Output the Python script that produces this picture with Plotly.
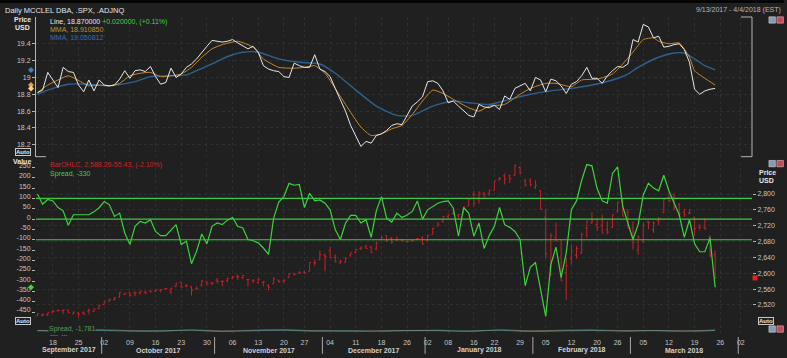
import pandas as pd
import plotly.graph_objects as go

# ---------------- data ----------------
holidays = ["2017-11-23", "2017-12-25", "2018-01-01", "2018-01-15", "2018-02-19", "2018-03-30"]
trading_days = pd.bdate_range("2017-09-13", "2018-04-04", freq="C", holidays=holidays)

dba_line = [
    18.82, 18.85, 19.06, 18.97, 18.88, 19.12, 19.07, 19.06, 18.91, 18.83,
    18.97, 18.84, 18.97, 18.91, 18.90, 18.91, 18.98, 19.08, 18.99, 19.08,
    19.09, 19.07, 19.13, 19.01, 18.92, 18.94, 19.11, 19.00, 19.04, 19.12,
    19.16, 19.22, 19.30, 19.37, 19.44, 19.43, 19.42, 19.43, 19.45, 19.41,
    19.37, 19.34, 19.37, 19.30, 19.14, 19.10, 19.08, 19.07, 19.01, 19.00,
    19.17, 19.14, 19.12, 19.12, 19.27, 19.10, 19.07, 19.01, 18.87, 18.74,
    18.60, 18.43, 18.30, 18.18, 18.24, 18.22, 18.31, 18.33, 18.37, 18.43,
    18.45, 18.44, 18.55, 18.66, 18.71, 18.77, 18.95, 18.96, 18.93, 18.84,
    18.70, 18.72, 18.66, 18.60, 18.55, 18.53, 18.68, 18.65, 18.64, 18.67,
    18.62, 18.78, 18.74, 18.87, 18.90, 18.93, 18.84, 19.00, 18.97, 18.83,
    18.98, 18.96, 18.90, 18.81, 18.92, 18.95, 19.02, 19.12, 18.99, 18.99,
    18.93, 19.02, 19.08, 19.13, 19.12, 19.16, 19.45, 19.42, 19.63, 19.60,
    19.47, 19.49, 19.36, 19.37, 19.39, 19.40, 19.33, 19.18, 18.86, 18.80,
    18.84, 18.86, 18.87,
]

mma_fast_day = [0, 2, 4, 6, 9, 10, 12, 14, 16, 18, 20, 22, 24, 26, 28, 30, 32, 34, 36, 39,
                42, 44, 47, 50, 52, 54, 56, 58, 60, 63, 65, 67, 69, 71, 73, 75, 77, 79, 81, 84,
                86, 88, 91, 94, 96, 99, 101, 104, 106, 109, 112, 114, 116, 118, 120, 121, 123, 125,
                127, 128, 130, 132]
mma_fast = [18.82, 18.91, 18.97, 19.02, 18.93, 18.90, 18.91, 18.90, 18.93, 19.02, 19.05, 19.06,
            19.01, 19.02, 19.04, 19.12, 19.24, 19.34, 19.39, 19.43, 19.36, 19.22, 19.12, 19.11,
            19.12, 19.14, 19.05, 18.87, 18.68, 18.41, 18.31, 18.33, 18.39, 18.43, 18.56, 18.72,
            18.85, 18.81, 18.74, 18.64, 18.60, 18.66, 18.68, 18.80, 18.87, 18.93, 18.93, 18.89,
            18.97, 18.98, 19.04, 19.16, 19.30, 19.45, 19.47, 19.43, 19.40, 19.41, 19.24, 19.08,
            18.99, 18.91]

mma_slow_day = [0, 2, 6, 10, 14, 19, 22, 26, 29, 31, 34, 36, 38, 40, 43, 47, 51, 55, 58, 62,
                66, 70, 73, 77, 81, 84, 88, 92, 96, 100, 104, 108, 112, 115, 117, 121, 124, 126,
                128, 130, 132]
mma_slow = [18.80, 18.85, 18.92, 18.92, 18.90, 18.95, 19.01, 19.02, 19.03, 19.08, 19.16, 19.22,
            19.27, 19.30, 19.30, 19.22, 19.18, 19.16, 19.05, 18.85, 18.66, 18.55, 18.55, 18.66,
            18.72, 18.70, 18.68, 18.74, 18.80, 18.84, 18.87, 18.91, 18.97, 19.04, 19.12, 19.24,
            19.29, 19.29, 19.22, 19.14, 19.09]

spread = [
    120, 72, 95, 88, 56, 40, -30, 21, 21, 21,
    21, 35, 55, 85, 69, 13, 29, -67, -123, -35,
    -11, -19, -3, -60, -80, -80, -55, -27, -123, -107,
    -216, -155, -72, -120, -35, -19, -27, -5, 8, -35,
    -43, -99, -105, -115, -140, -171, 5, 82, 109, 173,
    164, 168, 56, 125, 88, 93, 77, 45, -51, -99,
    -20, 18, 18, -19, -3, -88, 40, 109, 5, -14,
    29, 8, 20, 37, 88, 0, 45, 60, 77, 85,
    88, 53, -83, 56, 29, -83, -19, -142, -80, -35,
    56, -27, -40, -60, -99, -323, -232, -211, -340, -471,
    -219, -136, -283, -163, 45, 88, 188, 264, 258, 149,
    88, 77, 221, 253, 61, -20, -99, -27, 117, 173,
    150, 137, 212, 136, 80, 21, -88, -3, -120, -158,
    -158, -91, -330,
]
spread_levels = [100, 0, -100]

spx_open = [
    2493, 2494, 2495, 2502, 2506, 2506, 2507, 2498, 2500, 2501, 2504, 2504, 2511,
    2521, 2530, 2533, 2540, 2547, 2551, 2549, 2551, 2553, 2556, 2555, 2557, 2562, 2553, 2567,
    2578, 2568, 2566, 2561, 2570, 2578, 2576,
    2583, 2579, 2582, 2588, 2592, 2589, 2584, 2580, 2576, 2577, 2569, 2573, 2583, 2580, 2589,
    2600, 2600, 2603, 2605, 2627, 2634,
    2645, 2657, 2640, 2626, 2628, 2646, 2653, 2662, 2668, 2666, 2661, 2685, 2695, 2688, 2683,
    2684, 2680, 2682, 2687, 2690,
    2683, 2698, 2719, 2731, 2743, 2751, 2745, 2752, 2770, 2799, 2785, 2802, 2802, 2809, 2836,
    2846, 2846, 2848, 2867, 2833, 2833,
    2817, 2808, 2741, 2615, 2691, 2685, 2602, 2637, 2646, 2651, 2714, 2727, 2723, 2721, 2710,
    2716, 2757, 2781, 2754,
    2715, 2659, 2681, 2730, 2710, 2733, 2753, 2791, 2792, 2774, 2754, 2751, 2741, 2715, 2715,
    2691, 2647,
]
spx_high = [
    2498, 2499, 2500, 2508, 2508, 2508, 2508, 2503, 2502, 2504, 2511, 2510, 2520,
    2529, 2535, 2540, 2552, 2550, 2552, 2555, 2555, 2556, 2557, 2558, 2560, 2563, 2563, 2575,
    2578, 2572, 2567, 2567, 2582, 2580, 2578,
    2588, 2582, 2588, 2593, 2597, 2595, 2586, 2585, 2588, 2580, 2572, 2590, 2583, 2585, 2600,
    2600, 2605, 2606, 2627, 2635, 2657,
    2650, 2666, 2648, 2635, 2641, 2652, 2660, 2668, 2672, 2669, 2680, 2694, 2695, 2692, 2693,
    2686, 2682, 2685, 2688, 2693,
    2696, 2715, 2729, 2744, 2749, 2759, 2750, 2768, 2787, 2808, 2807, 2806, 2810, 2833, 2843,
    2852, 2849, 2873, 2870, 2838, 2840,
    2835, 2809, 2763, 2701, 2728, 2685, 2639, 2673, 2669, 2702, 2732, 2754, 2738, 2748, 2731,
    2748, 2780, 2789, 2762,
    2731, 2696, 2728, 2732, 2731, 2741, 2787, 2797, 2802, 2777, 2763, 2762, 2741, 2724, 2739,
    2696, 2658,
]
spx_low = [
    2492, 2492, 2493, 2500, 2503, 2497, 2499, 2496, 2488, 2495, 2496, 2502, 2510,
    2521, 2529, 2532, 2539, 2545, 2541, 2542, 2546, 2547, 2552, 2553, 2552, 2557, 2547, 2566,
    2564, 2565, 2544, 2559, 2567, 2569, 2570,
    2574, 2567, 2577, 2585, 2584, 2585, 2566, 2576, 2575, 2567, 2557, 2573, 2576, 2576, 2589,
    2594, 2599, 2598, 2605, 2619, 2633,
    2605, 2639, 2627, 2625, 2627, 2642, 2651, 2659, 2662, 2652, 2658, 2685, 2680, 2674, 2683,
    2680, 2678, 2679, 2683, 2673,
    2683, 2698, 2719, 2728, 2738, 2748, 2737, 2752, 2769, 2768, 2776, 2790, 2795, 2809, 2834,
    2824, 2828, 2846, 2850, 2819, 2819,
    2813, 2760, 2638, 2593, 2681, 2581, 2533, 2622, 2637, 2649, 2690, 2725, 2707, 2701, 2698,
    2714, 2754, 2744, 2714,
    2660, 2647, 2676, 2711, 2702, 2721, 2752, 2779, 2759, 2744, 2742, 2750, 2695, 2710, 2710,
    2642, 2586,
]
spx_close = [
    2498.37, 2495.62, 2500.23, 2503.87, 2506.65, 2508.24, 2500.60, 2502.22, 2496.66, 2496.84,
    2507.04, 2510.06, 2519.36,
    2529.12, 2534.58, 2537.74, 2552.07, 2549.33, 2544.73, 2550.64, 2555.24, 2550.93, 2553.17,
    2557.64, 2559.36, 2561.26, 2562.10, 2575.21, 2564.98, 2569.13, 2557.15, 2560.40, 2581.07,
    2572.83, 2575.26,
    2579.36, 2579.85, 2587.84, 2591.13, 2590.64, 2594.38, 2584.62, 2582.30, 2584.84, 2578.87,
    2564.62, 2585.64, 2578.85, 2582.14, 2599.03, 2597.08, 2602.42, 2601.42, 2627.04, 2626.07,
    2647.58,
    2642.22, 2639.44, 2629.57, 2629.27, 2636.98, 2651.50, 2659.99, 2664.11, 2662.85, 2652.01,
    2675.81, 2690.16, 2681.47, 2679.25, 2684.57, 2683.34, 2680.50, 2682.62, 2687.54, 2673.61,
    2695.81, 2713.06, 2723.99, 2743.15, 2747.71, 2751.29, 2748.23, 2767.56, 2786.24, 2776.42,
    2802.56, 2798.03, 2810.30, 2832.97, 2839.13, 2837.54, 2839.25, 2872.87, 2853.53, 2822.43,
    2823.81,
    2821.98, 2762.13, 2648.94, 2695.14, 2681.66, 2581.00, 2619.55, 2656.00, 2662.94, 2698.63,
    2731.20, 2732.22, 2716.26, 2701.33, 2703.96, 2747.30, 2779.60, 2744.28, 2713.83,
    2677.67, 2691.25, 2720.94, 2728.12, 2726.80, 2738.97, 2786.57, 2783.02, 2765.31, 2749.48,
    2747.33, 2752.01, 2712.92, 2716.94, 2711.93, 2643.69, 2588.26,
]

spread2_day = [0, 6, 12, 18, 24, 30, 36, 42, 48, 54, 60, 66, 72, 78, 84, 90, 96, 102, 108, 114,
               120, 126, 132]
spread2_a = [-1790, -1805, -1785, -1800, -1795, -1780, -1810, -1790, -1775, -1800, -1795, -1805,
             -1790, -1785, -1800, -1780, -1810, -1795, -1785, -1800, -1790, -1805, -1781]
spread2_b = [-1785, -1795, -1770, -1790, -1800, -1770, -1800, -1780, -1770, -1790, -1800, -1795,
             -1785, -1790, -1805, -1770, -1795, -1780, -1775, -1790, -1785, -1795, -1775]

top_ticks = [18.2, 18.4, 18.6, 18.8, 19.0, 19.2, 19.4]
spread_ticks = [250, 200, 150, 100, 50, 0, -50, -100, -150, -200, -250, -300, -350, -400, -450]
price_ticks = [2520, 2560, 2600, 2640, 2680, 2720, 2760, 2800]

x_tick_dates = ["2017-09-18", "2017-09-25", "2017-10-02", "2017-10-09", "2017-10-16", "2017-10-23",
                "2017-10-30", "2017-11-06", "2017-11-13", "2017-11-20", "2017-11-27", "2017-12-04",
                "2017-12-11", "2017-12-18", "2017-12-26", "2018-01-02", "2018-01-08", "2018-01-16",
                "2018-01-22", "2018-01-29", "2018-02-05", "2018-02-12", "2018-02-20", "2018-02-26",
                "2018-03-05", "2018-03-12", "2018-03-19", "2018-03-26", "2018-04-02"]
x_tick_labels = ["18", "25", "02", "09", "16", "23", "30", "06", "13", "20", "27", "04", "11", "18",
                 "26", "02", "08", "16", "22", "29", "05", "12", "20", "26", "05", "12", "19", "26",
                 "02"]
month_labels = ["September 2017", "October 2017", "November 2017", "December 2017",
                "January 2018", "February 2018", "March 2018"]
month_starts = ["2017-10-01", "2017-11-01", "2017-12-01", "2018-01-01", "2018-02-01",
                "2018-03-01", "2018-04-01"]

# ---------------- layout helpers ----------------
W, H = 787, 358
ML, MR, MT, MB = 36, 32, 17, 20
PW, PH = W - ML - MR, H - MT - MB
BG = "#202020"
GRID = "#2f2f2f"
AXC = "#b4b4b4"
TXT = "#c4c4c4"
FONT = "Liberation Sans, Arial, sans-serif"
GREEN = "#3cd43c"
RED = "#c8202a"


def px(xp):
    return (xp - ML) / PW


def py(yp):
    return (H - MB - yp) / PH


day = list(range(len(spx_close)))
pos = {d.strftime("%Y-%m-%d"): i for i, d in enumerate(trading_days)}
x_range = [-0.29, 139.18]
tickvals = [pos[d] for d in x_tick_dates]
bounds = [int(trading_days.searchsorted(pd.Timestamp(d))) - 0.5 for d in month_starts]
edges = [x_range[0]] + bounds

fig = go.Figure()

# top panel
fig.add_trace(go.Scatter(x=mma_slow_day, y=mma_slow, mode="lines", yaxis="y", xaxis="x",
                         line=dict(color="#2d6193", width=1.4, shape="spline", smoothing=0.6)))
fig.add_trace(go.Scatter(x=mma_fast_day, y=mma_fast, mode="lines", yaxis="y", xaxis="x",
                         line=dict(color="#c8882e", width=1, shape="spline", smoothing=0.5)))
fig.add_trace(go.Scatter(x=day, y=dba_line, mode="lines", yaxis="y", xaxis="x",
                         line=dict(color="#e8e8e8", width=1)))

# bottom panel
fig.add_trace(go.Ohlc(x=day, open=spx_open, high=spx_high, low=spx_low, close=spx_close,
                      xaxis="x", yaxis="y2", tickwidth=0.3,
                      increasing=dict(line=dict(color=RED, width=1)),
                      decreasing=dict(line=dict(color=RED, width=1))))
fig.add_trace(go.Scatter(x=day, y=spread, mode="lines", xaxis="x", yaxis="y3",
                         line=dict(color=GREEN, width=1.2)))

# mini panel
fig.add_trace(go.Scatter(x=spread2_day, y=spread2_a, mode="lines", xaxis="x", yaxis="y4",
                         line=dict(color="#2f6f80", width=1.2, shape="spline")))
fig.add_trace(go.Scatter(x=spread2_day, y=spread2_b, mode="lines", xaxis="x", yaxis="y4",
                         line=dict(color="#9a9468", width=0.8, shape="spline"), opacity=0.7))

tickfont = dict(family=FONT, size=7, color=TXT)

fig.update_layout(
    width=W, height=H, margin=dict(l=ML, r=MR, t=MT, b=MB),
    paper_bgcolor=BG, plot_bgcolor=BG, showlegend=False,
    xaxis=dict(domain=[0, 1], range=x_range, anchor="y4", tickvals=tickvals,
               ticktext=x_tick_labels, ticks="", showgrid=True, gridcolor=GRID,
               griddash="dot", zeroline=False, showline=False, tickfont=tickfont,
               ticklabelstandoff=2, rangeslider=dict(visible=False), fixedrange=True),
    yaxis=dict(domain=[py(158), 1.0], range=[18.059, 19.718], anchor="x", side="left",
               tickvals=top_ticks, ticktext=[f"{v:g}" for v in top_ticks],
               ticks="outside", ticklen=3, tickcolor=AXC, showline=True, linecolor=AXC,
               linewidth=1, showgrid=True, gridcolor=GRID, griddash="dot", zeroline=False,
               tickfont=tickfont),
    yaxis2=dict(domain=[py(326), py(163)], range=[2474.25, 2881.75], anchor="x", side="right",
                tickvals=price_ticks, ticktext=[f"{v:,}" for v in price_ticks],
                ticks="outside", ticklen=3, tickcolor=AXC, showline=False,
                showgrid=True, gridcolor=GRID, griddash="dot", zeroline=False,
                tickfont=tickfont),
    yaxis3=dict(overlaying="y2", range=[-503.6, 278.2], anchor="x", side="left",
                tickvals=spread_ticks, ticktext=[str(v) for v in spread_ticks],
                ticks="outside", ticklen=3, tickcolor=AXC, showline=False,
                showgrid=False, zeroline=False, tickfont=tickfont, ticklabelshift=-2),
    yaxis4=dict(domain=[0.0, py(328)], range=[-1900, -1650], anchor="x", visible=False),
)

shapes = []
# spread level lines
for lv in spread_levels:
    shapes.append(dict(type="line", xref="paper", x0=0, x1=1, yref="y3", y0=lv, y1=lv,
                       line=dict(color="#3cc83c", width=1.2), layer="above"))
# top panel brackets
shapes.append(dict(type="path", xref="paper", yref="paper",
                   path=f"M{px(744)},{py(17)} L{px(755)},{py(17)} L{px(755)},{py(158)} L{px(744)},{py(158)}",
                   line=dict(color=AXC, width=1)))
shapes.append(dict(type="line", xref="paper", yref="paper", x0=px(36), x1=px(46),
                   y0=py(158), y1=py(158), line=dict(color=AXC, width=1)))
# top black strip
shapes.append(dict(type="rect", xref="paper", yref="paper", x0=px(0), x1=px(W),
                   y0=py(0), y1=py(2.5), fillcolor="#000000", line=dict(width=0)))
# month separators
for b in bounds:
    shapes.append(dict(type="line", xref="x", x0=b, x1=b, yref="paper", y0=py(340), y1=py(357),
                       line=dict(color="#a8a8a8", width=1)))


def marker(yref, value, xpix, color, kind):
    d = dict(xref="paper", xsizemode="pixel", xanchor=px(xpix), yref=yref, ysizemode="pixel",
             yanchor=value, fillcolor=color, line=dict(width=0), layer="above")
    if kind == "diamond":
        d.update(type="path", path="M0,3 L3,0 L0,-3 L-3,0 Z")
    else:
        d.update(type="rect", x0=-2.5, x1=2.5, y0=-2.5, y1=2.5)
    return d


shapes.append(marker("y", mma_slow[-1], 31, "#3b80c4", "diamond"))
shapes.append(marker("y", mma_fast[-1], 31, "#e2a33c", "diamond"))
shapes.append(marker("y", dba_line[-1], 31, "#f2d77a", "diamond"))
shapes.append(marker("y3", spread[-1], 31, GREEN, "diamond"))
shapes.append(marker("y2", spx_close[-1], 758, "#e52222", "rect"))

# window icons
for yc in (20, 165, 332):
    shapes.append(dict(type="rect", xref="paper", yref="paper", x0=px(772), x1=px(778.5),
                       y0=py(yc - 3.2), y1=py(yc + 3.2), fillcolor="#8799b3",
                       line=dict(color="#d0d8e4", width=0.6)))
    shapes.append(dict(type="rect", xref="paper", yref="paper", x0=px(780), x1=px(786.5),
                       y0=py(yc - 3.2), y1=py(yc + 3.2), fillcolor="#c54a5a",
                       line=dict(color="#e8c0c0", width=0.6)))
fig.update_layout(shapes=shapes)

ann = []


def label(xp, yp, text, color=TXT, size=7, xanchor="left", **kw):
    d = dict(x=px(xp), y=py(yp), xref="paper", yref="paper", text=text, showarrow=False,
             xanchor=xanchor, yanchor="middle", font=dict(family=FONT, size=size, color=color))
    d.update(kw)
    return d


ann.append(label(3, 10, "Daily MCCLEL DBA, .SPX, .ADJNQ", "#e6e6e6", 7.5))
ann.append(label(786, 10, "9/13/2017 - 4/4/2018 (EST)", "#b8b8b8", 7, xanchor="right"))
ann.append(label(48, 22, f"Line, {dba_line[-1]:.6f} <span style='color:#3fd83f'>+0.020000, (+0.11%)</span>",
                 "#e8e8e8", 7))
ann.append(label(48, 30, "MMA, 18.910850", "#d08c30", 7))
ann.append(label(48, 38, "MMA, 19.050812", "#3470a8", 7))
ann.append(label(48, 166, "BarOHLC, 2,588.26-55.43, (-2.10%)", "#d02020", 7))
ann.append(label(48, 175, "Spread, -330", GREEN, 7))
ann.append(label(48, 331.5, "Spread, -1,781", "#5f9a5f", 7, bgcolor=BG, borderpad=0))
ann.append(label(48, 338, "<b>····  ···</b>", "#d08c30", 6))

ann.append(label(33, 20, "<b>Price</b>", "#e6e6e6", 7, xanchor="right"))
ann.append(label(32, 28, "<b>USD</b>", "#e6e6e6", 7, xanchor="right"))
ann.append(label(33, 163, "<b>Value</b>", "#e6e6e6", 7, xanchor="right"))
ann.append(label(760, 174, "<b>Price</b>", "#e6e6e6", 7))
ann.append(label(760, 182, "<b>USD</b>", "#e6e6e6", 7))

for xp, yp in ((23, 153.5), (23, 323.5)):
    ann.append(label(xp, yp, "<b>Auto</b>", "#e6e6e6", 6, xanchor="center",
                     bordercolor="#c8c8c8", borderwidth=1, borderpad=0))
ann.append(label(769, 323.5, "<b>Auto</b>", "#e6e6e6", 6, xanchor="center",
                 bordercolor="#c8c8c8", borderwidth=1, borderpad=0))

for i, name in enumerate(month_labels):
    ann.append(dict(x=(edges[i] + edges[i + 1]) / 2, xref="x", y=py(353.5), yref="paper",
                    text=f"<b>{name}</b>", showarrow=False, xanchor="center", yanchor="middle",
                    font=dict(family=FONT, size=7, color="#d0d0d0")))

fig.update_layout(annotations=ann)

fig.write_html("out.html", config={"displayModeBar": False},
               post_script="document.body.style.margin='0px';document.body.style.padding='0px';")
